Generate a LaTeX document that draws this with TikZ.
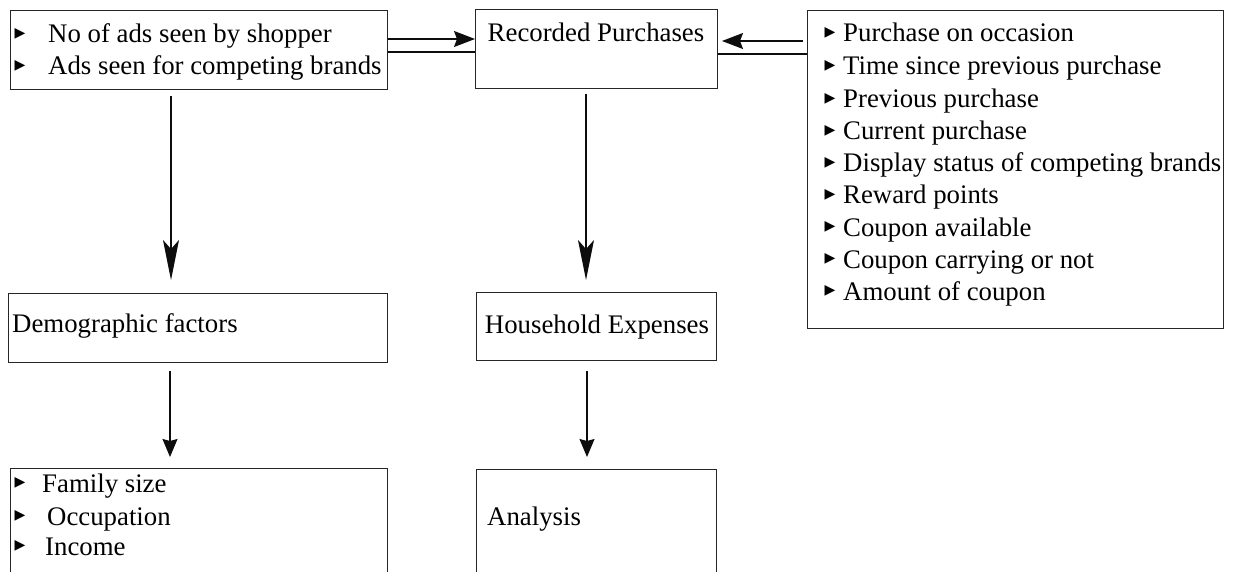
\documentclass[tikz,border=0pt]{standalone}
\usepackage{fontspec}
\setmainfont{Liberation Serif}
\newfontfamily\symfont{DejaVu Sans}
\usetikzlibrary{arrows.meta,calc}
\begin{document}
\begin{tikzpicture}[x=1pt,y=-1pt,
  box/.style={draw=black!85, line width=1pt, rectangle, inner sep=0pt, anchor=north west},
  txt/.style={anchor=base west, inner sep=0pt, font=\fontsize{26.8}{32}\selectfont},
  ctxt/.style={anchor=base, inner sep=0pt, font=\fontsize{26.8}{32}\selectfont},
  bul/.style={inner sep=0pt, font=\symfont\fontsize{14}{14}\selectfont},
  conn/.style={line width=1.2pt, draw=black!95},
  hhead/.style={conn, -{Stealth[length=21pt,width=16pt,inset=3pt]}},
  vhead/.style={conn, -{Stealth[length=40pt,width=16pt,inset=9pt]}},
  shead/.style={conn, -{Stealth[length=18pt,width=15pt,inset=2pt]}}]
\clip (0,0) rectangle (1233,572);
\fill[white] (0,0) rectangle (1233,572);
% boxes
\node[box, minimum width=377pt, minimum height=79pt] (A) at (10,10) {};
\node[box, minimum width=242pt, minimum height=79pt] (B) at (475,9) {};
\node[box, minimum width=416pt, minimum height=318pt] (C) at (807,10) {};
\node[box, minimum width=379pt, minimum height=69pt] (D) at (8,293) {};
\node[box, minimum width=240pt, minimum height=68pt] (H) at (476,292) {};
\node[box, minimum width=377pt, minimum height=140pt] (F) at (10,468) {};
\node[box, minimum width=240pt, minimum height=140pt] (N) at (476,469) {};
% texts
\node[bul] (ab1) at (20,34) {▶};
\node[txt] (a1) at (48,43) {No of ads seen by shopper};
\node[bul] (ab2) at (20,66) {▶};
\node[txt] (a2) at (48,75) {Ads seen for competing brands};
\node[ctxt] (b1) at (596,42) {Recorded Purchases};
\foreach \t/\yy [count=\i] in {Purchase on occasion/42, Time since previous purchase/75,
  Previous purchase/107.5, Current purchase/139.5, Display status of competing brands/171.5,
  Reward points/203.5, Coupon available/236, Coupon carrying or not/268, Amount of coupon/300}{
  \node[bul] (cb\i) at (830,\yy-9) {▶};
  \node[txt] (c\i) at (843,\yy) {\t};
}
\node[txt] (d1) at (12,332) {Demographic factors};
\node[ctxt] (h1) at (597,333) {Household Expenses};
\node[bul] (fb1) at (20,483) {▶};
\node[txt] (f1) at (42,492) {Family size};
\node[bul] (fb2) at (20,516) {▶};
\node[txt] (f2) at (47,525) {Occupation};
\node[bul] (fb3) at (20,546) {▶};
\node[txt] (f3) at (45,555) {Income};
\node[txt] (n1) at (487,525) {Analysis};
% helper coordinates
\coordinate (ya) at (0,39);
\coordinate (yb) at (0,52);
\coordinate (yc) at (0,41);
\coordinate (yd) at (0,54);
\coordinate (xa) at (171,0);
\coordinate (xb) at (586,0);
\coordinate (xc) at (587,0);
\coordinate (xd) at (170,0);
% connectors
\draw[hhead] (A.east |- ya) -- (B.west |- ya);
\draw[conn] (A.east |- yb) -- (B.west |- yb);
\draw[hhead, shorten <=4pt, shorten >=4pt] (C.west |- yc) -- (B.east |- yc);
\draw[conn] (B.east |- yd) -- (C.west |- yd);
\draw[vhead, shorten <=6pt, shorten >=13pt] (A.south -| xa) -- (D.north -| xa);
\draw[vhead, shorten <=5pt, shorten >=12pt] (B.south -| xb) -- (H.north -| xb);
\draw[shead, shorten <=10pt, shorten >=12pt] (H.south -| xc) -- (N.north -| xc);
\draw[shead, shorten <=8pt, shorten >=11pt] (D.south -| xd) -- (F.north -| xd);
\end{tikzpicture}
\end{document}
